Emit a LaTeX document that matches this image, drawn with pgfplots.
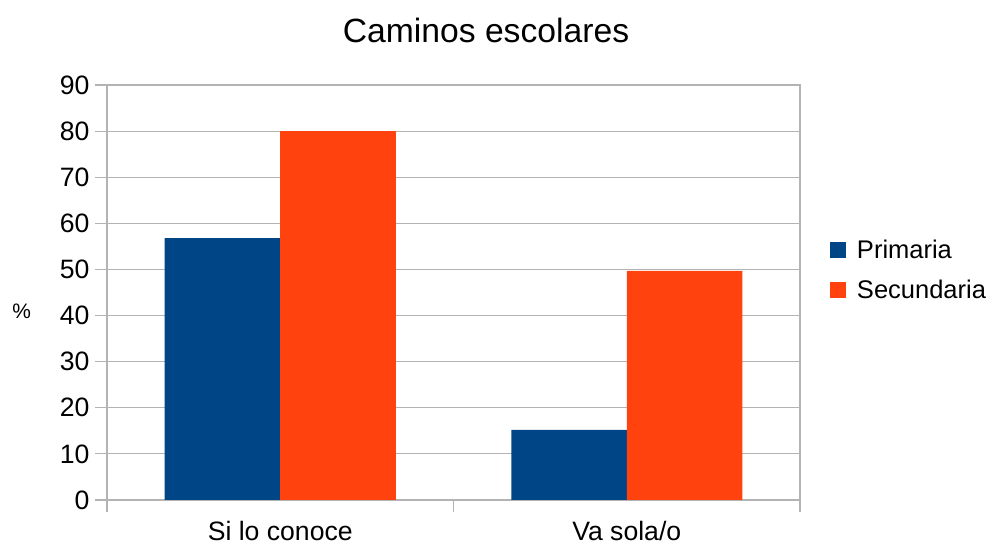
\documentclass[border=0pt]{standalone}
\usepackage{fontspec}
\setmainfont{Liberation Sans}
\usepackage{pgfplots}
\pgfplotsset{compat=1.18}
\definecolor{Prim}{HTML}{004586}
\definecolor{Sec}{HTML}{FF420E}
\definecolor{GridGray}{HTML}{B3B3B3}

\begin{document}
\begin{tikzpicture}[x=1bp,y=1bp]
\path[use as bounding box] (-107bp,-44bp) rectangle (879bp,500bp);
\begin{axis}[scale only axis,width=693bp,height=415bp,
  at={(0,0)},anchor=south west,
  xmin=-0.5,xmax=1.5,ymin=0,ymax=90,
  ytick={0,10,...,90},
  axis line style={GridGray,line width=1.2bp},
  ymajorgrids,grid style={GridGray,line width=1bp},
  ytick pos=left,xtick pos=bottom,tick align=outside,
  major tick length=12bp,
  tick style={GridGray,line width=1.2bp},
  xtick={-0.5,0.5,1.5},xticklabels={},
  extra x ticks={0,1},
  extra x tick labels={Si lo conoce,Va sola/o},
  extra x tick style={tick style={draw=none},grid=none,
    tick label style={yshift=-6bp}},
  /pgf/number format/assume math mode=true,
  tick label style={font=\fontsize{26.7}{30}\selectfont,text=black},
  yticklabel style={xshift=-2bp},
  ylabel={\%},
  ylabel style={font=\fontsize{21}{24}\selectfont,rotate=-90,anchor=center,
    at={(axis description cs:-0.123,0.455)}},
  legend cell align=left,
  legend style={draw=none,fill=none,font=\fontsize{25.6}{29}\selectfont,
    at={(axis description cs:1.043,0.555)},anchor=west,
    row sep=16bp,inner sep=0pt,
    /tikz/every odd column/.append style={column sep=9bp}},
  legend image code/.code={\fill[#1] (0bp,-8bp) rectangle (16bp,8bp);},
]
\addplot[ybar,bar width=115.5bp,bar shift=-57.75bp,fill=Prim,draw=none]
  coordinates {(0,56.8) (1,15.2)};
\addplot[ybar,bar width=115.5bp,bar shift=57.75bp,fill=Sec,draw=none]
  coordinates {(0,80) (1,49.7)};
\legend{Primaria,Secundaria}
\end{axis}
\node[font=\fontsize{33.8}{38}\selectfont] at (379bp,470bp) {Caminos escolares};
\end{tikzpicture}
\end{document}
